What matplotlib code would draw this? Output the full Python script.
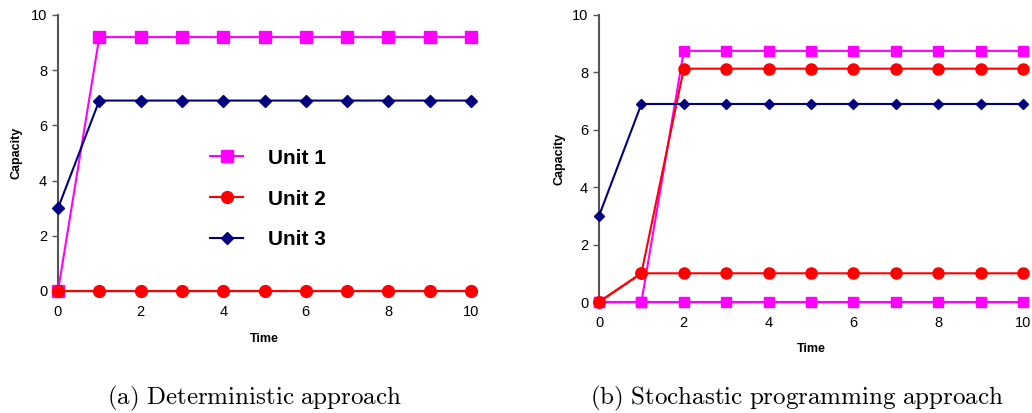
import matplotlib
matplotlib.use("Agg")
import matplotlib.pyplot as plt

plt.rcParams['font.family'] = ['Liberation Sans', 'DejaVu Sans']
plt.rcParams['mathtext.fontset'] = 'cm'

time = list(range(11))

# (a) Deterministic approach
det_unit1 = [0, 9.2, 9.2, 9.2, 9.2, 9.2, 9.2, 9.2, 9.2, 9.2, 9.2]
det_unit2 = [0, 0, 0, 0, 0, 0, 0, 0, 0, 0, 0]
det_unit3 = [3, 6.9, 6.9, 6.9, 6.9, 6.9, 6.9, 6.9, 6.9, 6.9, 6.9]

# (b) Stochastic programming approach (two scenarios for units 1 and 2)
sto_unit1_a = [0, 0, 8.75, 8.75, 8.75, 8.75, 8.75, 8.75, 8.75, 8.75, 8.75]
sto_unit1_b = [0, 0, 0, 0, 0, 0, 0, 0, 0, 0, 0]
sto_unit2_a = [0, 1, 8.13, 8.13, 8.13, 8.13, 8.13, 8.13, 8.13, 8.13, 8.13]
sto_unit2_b = [0, 1, 1, 1, 1, 1, 1, 1, 1, 1, 1]
sto_unit3 = [3, 6.9, 6.9, 6.9, 6.9, 6.9, 6.9, 6.9, 6.9, 6.9, 6.9]

labels = ['Unit 1', 'Unit 2', 'Unit 3']
xticks = [0, 2, 4, 6, 8, 10]
yticks = [0, 2, 4, 6, 8, 10]
captions = ['(a) Deterministic approach', '(b) Stochastic programming approach']

c1, c2, c3 = '#FF00FF', '#FF0000', '#000080'

fig = plt.figure(figsize=(10.32, 4.13), dpi=100)
axL = fig.add_axes([58/1032, 1-291/413, 413/1032, 276/413])
axR = fig.add_axes([599/1032, 1-302/413, 424/1032, 287/413])


def style(ax, label_y, cap_x):
    ax.set_xlim(0, 10)
    ax.set_ylim(0, 10)
    ax.set_xticks(xticks)
    ax.set_yticks(yticks)
    for s in ['top', 'right']:
        ax.spines[s].set_visible(False)
    ax.spines['left'].set_color('#555555')
    ax.spines['left'].set_linewidth(1.5)
    ax.spines['bottom'].set_color('#555555')
    ax.spines['bottom'].set_linewidth(1.0)
    ax.tick_params(axis='y', direction='out', length=4.3, width=1, color='#555555',
                   pad=3.5, labelsize=10.5)
    ax.tick_params(axis='x', length=0, pad=10, labelsize=10.5)
    ax.set_xlabel('Time', fontsize=9, fontweight='bold')
    ax.set_ylabel('Capacity', fontsize=9, fontweight='bold')
    ax.xaxis.set_label_coords(0.5, label_y)
    ax.yaxis.set_label_coords(cap_x, 0.5)


kw = dict(lw=1.5, clip_on=False, zorder=3)
h1, = axL.plot(time, det_unit1, color=c1, marker='s', ms=8.5, label=labels[0], **kw)
h2, = axL.plot(time, det_unit2, color=c2, marker='o', ms=8.5, label=labels[1], **kw)
h3, = axL.plot(time, det_unit3, color=c3, marker='D', ms=6, label=labels[2], **kw)
style(axL, -0.152, -0.087)
leg = axL.legend(handles=[h1, h2, h3], loc='center left', bbox_to_anchor=(0.368, 0.333),
                 frameon=False, borderpad=0, borderaxespad=0, handlelength=1.6,
                 handletextpad=1.2, labelspacing=1.05,
                 prop={'size': 15, 'weight': 'bold'})

axR.plot(time, sto_unit1_a, color=c1, marker='s', ms=7.5, **kw)
axR.plot(time, sto_unit1_b, color=c1, marker='s', ms=7.5, **kw)
axR.plot(time, sto_unit2_a, color=c2, marker='o', ms=8, **kw)
axR.plot(time, sto_unit2_b, color=c2, marker='o', ms=8, **kw)
axR.plot(time, sto_unit3, color=c3, marker='D', ms=5.5, **kw)
style(axR, -0.143, -0.080)

for x, cap in zip([255/1032, 797/1032], captions):
    fig.text(x, 1-398/413, r'$\mathrm{' + cap.replace(' ', r'\ ') + '}$',
             ha='center', va='center', fontsize=18)

fig.savefig('out.png', dpi=100)
